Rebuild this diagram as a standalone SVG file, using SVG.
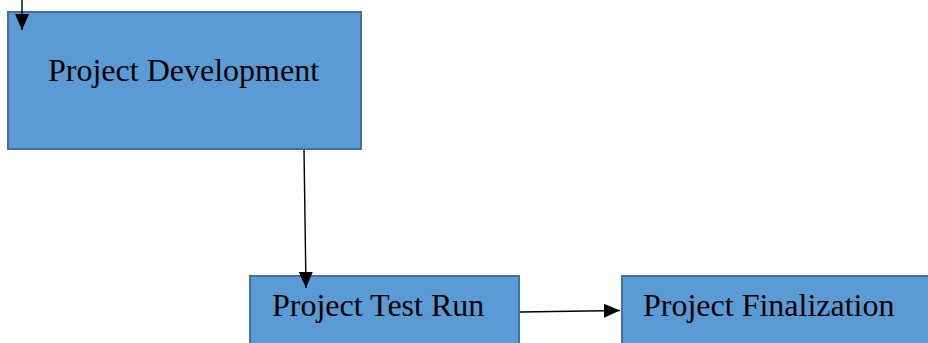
<svg xmlns="http://www.w3.org/2000/svg" width="928" height="343" viewBox="0 0 928 343">
<style>
.box{fill:#5b9bd5;stroke:#41719c;stroke-width:2}
.lbl{font-family:"Liberation Serif","Times New Roman",serif;font-size:32px;fill:#000}
.conn{stroke:#000;stroke-width:1.4;fill:none}
</style>
<defs>
<marker id="arr" markerUnits="userSpaceOnUse" markerWidth="17" markerHeight="15" refX="16" refY="7" orient="auto">
<path d="M0,0 L16,7 L0,14 Z" fill="#000"/>
</marker>
</defs>
<g id="n1">
<rect class="box" x="8" y="12" width="353" height="137"/>
<text class="lbl" x="48" y="81">Project Development</text>
</g>
<g id="n2">
<rect class="box" x="250" y="276" width="269" height="80"/>
<text class="lbl" x="272" y="316">Project Test Run</text>
</g>
<g id="n3">
<rect class="box" x="622" y="276" width="320" height="80"/>
<text class="lbl" x="643" y="316">Project Finalization</text>
</g>
<g id="connectors">
<line class="conn" x1="22" y1="0" x2="22" y2="30" marker-end="url(#arr)"/>
<line class="conn" x1="304" y1="150" x2="306" y2="288" marker-end="url(#arr)"/>
<line class="conn" x1="520" y1="312" x2="620" y2="310.5" marker-end="url(#arr)"/>
</g>
</svg>
